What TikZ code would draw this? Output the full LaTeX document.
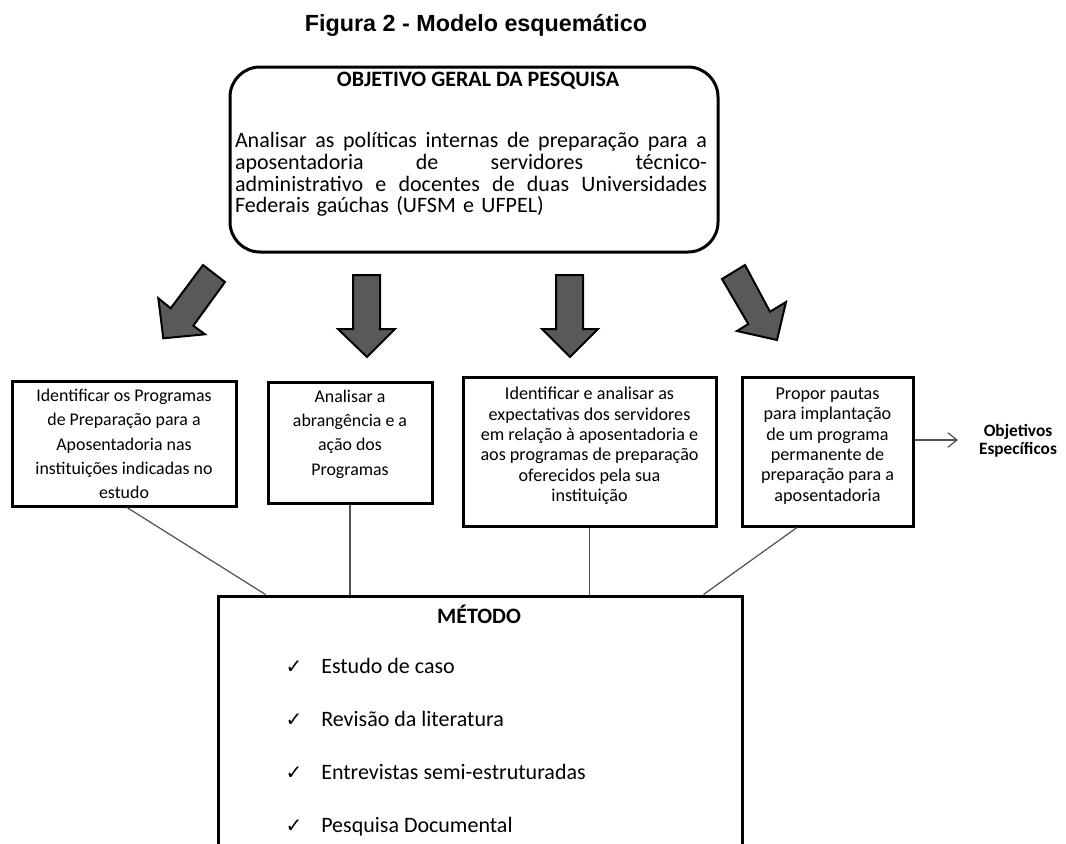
\documentclass[tikz,border=0pt]{standalone}
\usepackage{fontspec}
\setmainfont{Carlito}
\newfontfamily\arialfont{Liberation Sans}
\newfontfamily\symfont{DejaVu Sans}
\usetikzlibrary{arrows.meta}
\definecolor{arrowfill}{RGB}{89,89,89}
\definecolor{linegray}{RGB}{80,80,80}
\newcommand{\jline}[1]{\makebox[354pt][l]{#1}}
\tikzset{
  obox/.style={draw=black, line width=2.25pt, inner sep=0pt, line join=miter},
  btxt/.style={align=center, inner sep=0pt, font=\fontsize{13.4}{18.3}\selectfont},
  ctxt/.style={align=center, inner sep=0pt, font=\fontsize{13.6}{15.3}\selectfont},
  bigarrow/.style={fill=arrowfill, draw=black, line width=1.5pt, line join=miter},
  conn/.style={draw=linegray, line width=0.9pt},
  itemtxt/.style={anchor=base west, inner sep=0pt, font=\fontsize{16.5}{19}\selectfont},
  checkmk/.style={anchor=base, inner sep=0pt, font=\symfont\fontsize{15}{16}\selectfont},
}
\begin{document}
\begin{tikzpicture}[x=0.75pt, y=-0.75pt]
\useasboundingbox (0,0) rectangle (1066,843);
\clip (0,0) rectangle (1066,843);
\fill[white] (0,0) rectangle (1066,843);

% title
\node[inner sep=0pt, font=\arialfont\bfseries\fontsize{17.5}{21}\selectfont] (title) at (476,25) {Figura 2 - Modelo esquemático};

% top box
\node[obox, rounded corners=22.5pt, minimum width=366pt, minimum height=138.75pt] (topbox) at (474,159.5) {};
\node[inner sep=0pt, font=\bfseries\fontsize{16.5}{20}\selectfont] (toptitle) at (478,81) {OBJETIVO GERAL DA PESQUISA};
\node[inner sep=0pt, align=left, text width=354pt, font=\fontsize{16.5}{16.3}\selectfont] (topbody) at (471,174.5)
{\jline{Analisar\hfill as\hfill políticas\hfill internas\hfill de\hfill preparação\hfill para\hfill a}\\
\jline{aposentadoria\hfill de\hfill servidores\hfill técnico-}\\
\jline{administrativo\hfill e\hfill docentes\hfill de\hfill duas\hfill Universidades}\\
Federais gaúchas (UFSM e UFPEL)};

% block arrows
\draw[bigarrow] (203,265) -- (225,282) -- (193.3,325.7) -- (205,334.3) -- (163.3,338.3) -- (158.3,298.3) -- (170.7,308.3) -- cycle;
\draw[bigarrow] (353,275) -- (380,275) -- (380,329) -- (395,329) -- (367,357) -- (338,329) -- (353,329) -- cycle;
\draw[bigarrow] (556,275) -- (583,275) -- (583,329) -- (598,329) -- (570,357) -- (542,329) -- (556,329) -- cycle;
\draw[bigarrow] (745,265) -- (722,279) -- (748.3,324) -- (737,331) -- (777,340) -- (786,302) -- (770,311.7) -- cycle;

% specific objective boxes
\node[obox, minimum width=168pt, minimum height=93.75pt] (box1) at (124,443.5) {};
\node[btxt] (t1) at (124,444) {Identificar os Programas\\de Preparação para a\\Aposentadoria nas\\instituições indicadas no\\estudo};

\node[obox, minimum width=123pt, minimum height=90.75pt] (box2) at (350,442.5) {};
\node[btxt] (t2) at (350,434) {Analisar a\\abrangência e a\\ação dos\\Programas};

\node[obox, minimum width=189.75pt, minimum height=111.75pt] (box3) at (589.5,451.5) {};
\node[ctxt] (t3) at (589.5,446) {Identificar e analisar as\\expectativas dos servidores\\em relação à aposentadoria e\\aos programas de preparação\\oferecidos pela sua\\instituição};

\node[obox, minimum width=128.25pt, minimum height=111.75pt] (box4) at (827.5,451.5) {};
\node[ctxt] (t4) at (827.5,446) {Propor pautas\\para implantação\\de um programa\\permanente de\\preparação para a\\aposentadoria};

% objetivos especificos
\node[align=center, inner sep=0pt, font=\bfseries\fontsize{13}{13.5}\selectfont] (obj) at (1018,441) {Objetivos\\Específicos};
\coordinate (objarr) at (958,440);
\draw[conn, -{Straight Barb[length=7pt, width=11pt, line width=0.9pt]}] (box4.east |- objarr) -- (objarr);

% method box
\node[obox, minimum width=393pt, minimum height=213pt] (method) at (480,738) {};
\node[inner sep=0pt, font=\bfseries\fontsize{16.5}{20}\selectfont] (mtitle) at (479,614) {MÉTODO};
\node[checkmk] (c1) at (294,673) {✓};
\node[itemtxt] (m1) at (321,673) {Estudo de caso};
\node[checkmk] (c2) at (294,726) {✓};
\node[itemtxt] (m2) at (321,726) {Revisão da literatura};
\node[checkmk] (c3) at (294,779) {✓};
\node[itemtxt] (m3) at (321,779) {Entrevistas semi-estruturadas};
\node[checkmk] (c4) at (294,832) {✓};
\node[itemtxt] (m4) at (321,832) {Pesquisa Documental};

% connectors
\draw[conn] ([xshift=2.25pt]box1.south) -- ([xshift=36.75pt]method.north west);
\draw[conn] (box2.south) -- (box2.south |- method.north);
\draw[conn] (box3.south) -- (box3.south |- method.north);
\draw[conn] ([xshift=-22.9pt]box4.south) -- ([xshift=-30pt]method.north east);
\end{tikzpicture}
\end{document}
